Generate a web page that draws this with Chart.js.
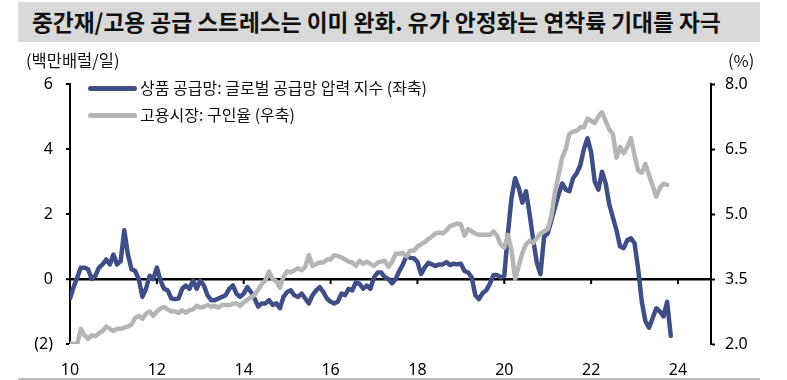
<!DOCTYPE html>
<html>
<head>
<meta charset="utf-8">
<script src="https://cdn.jsdelivr.net/npm/chart.js@4.4.1/dist/chart.umd.min.js"></script>
<style>
  html, body { margin:0; padding:0; background:#fff; }
  #wrap { position:relative; width:787px; height:380px; overflow:hidden; background:#fff; }
  #c { position:absolute; left:0; top:0; }
  .title { position:absolute; left:18px; top:2px; width:742px; height:40px; background:#d9d9d9; }
  .title span { position:absolute; left:14px; top:0; line-height:40px; font-family:"Noto Sans CJK KR","Noto Sans",sans-serif; font-weight:bold; font-size:22.7px; color:#111; white-space:nowrap; }
  .unit { position:absolute; font-family:"Noto Sans CJK KR","Noto Sans",sans-serif; font-size:16.5px; color:#111; line-height:18px; white-space:nowrap; }
  .leg { position:absolute; left:88px; font-family:"Noto Sans CJK KR","Noto Sans",sans-serif; font-size:16px; color:#111; white-space:nowrap; line-height:18px; }
  .leg i { display:inline-block; width:49px; height:5px; border-radius:3px; vertical-align:middle; margin-right:3px; position:relative; top:-1px; }
  .bline { position:absolute; left:18px; top:378px; width:742px; height:1.5px; background:#bfbfbf; }
</style>
</head>
<body>
<div id="wrap">
  <div class="title"><span>중간재/고용 공급 스트레스는 이미 완화. 유가 안정화는 연착륙 기대를 자극</span></div>
  <canvas id="c" width="787" height="380"></canvas>
  <div class="unit" style="left:26px; top:51px;">(백만배럴/일)</div>
  <div class="unit" style="left:728px; top:51px;">(%)</div>
  <div class="leg" style="top:78px;"><i style="background:#3f4e87"></i>상품 공급망: 글로벌 공급망 압력 지수 (좌축)</div>
  <div class="leg" style="top:105px;"><i style="background:#b5b5b5"></i>고용시장: 구인율 (우축)</div>
  <div class="bline"></div>
</div>
<script>
// Monthly data, Jan 2010 onward
const startYear = 10; // 2010
const xTickLabels = [10, 12, 14, 16, 18, 20, 22, 24];
const leftTicks = [-2, 0, 2, 4, 6];
const rightTicks = [2.0, 3.5, 5.0, 6.5, 8.0];

// 상품 공급망: 글로벌 공급망 압력 지수 (좌축)
const gscpi = [
  -0.6, -0.25, 0.05, 0.35, 0.35, 0.3, 0.0, 0.1, 0.35, 0.45, 0.6, 0.45,
  0.75, 0.45, 0.55, 1.5, 0.75, 0.3, 0.25, 0.0, -0.55, -0.3, 0.1, 0.0,
  0.35, -0.05, -0.3, -0.35, -0.6, -0.62, -0.6, -0.3, -0.2, -0.3, -0.05, -0.3,
  -0.05, -0.2, -0.5, -0.65, -0.65, -0.6, -0.55, -0.5, -0.3, -0.2, -0.45, -0.55,
  -0.45, -0.25, -0.4, -0.6, -0.85, -0.75, -0.75, -0.65, -0.8, -0.75, -0.9, -0.55,
  -0.4, -0.35, -0.5, -0.55, -0.45, -0.6, -0.75, -0.5, -0.35, -0.25, -0.4, -0.6,
  -0.7, -0.75, -0.7, -0.45, -0.5, -0.3, -0.35, -0.1, -0.15, -0.3, -0.2, -0.3,
  0.05, 0.2, 0.2, 0.05, 0.0, -0.13, 0.0, 0.25, 0.45, 0.72, 0.65, 0.64,
  0.53, 0.15, 0.35, 0.5, 0.45, 0.4, 0.45, 0.45, 0.52, 0.43, 0.47, 0.45,
  0.47, 0.25, 0.2, 0.05, -0.5, -0.62, -0.44, -0.35, -0.15, 0.12, 0.12, 0.05,
  0.1, 1.4, 2.5, 3.1, 2.8, 2.35, 2.7, 2.0, 1.2, 0.5, 0.15, 1.3,
  1.4, 1.8, 2.2, 2.6, 2.94, 2.75, 2.7, 3.1, 3.25, 3.5, 4.0, 4.33,
  3.9, 3.0, 2.75, 3.3, 2.95, 2.3, 1.9, 1.5, 1.0, 0.95, 1.2, 1.25,
  1.1, 0.3, -0.7, -1.3, -1.5, -1.2, -0.9, -1.0, -1.15, -0.7, -1.75
];

// 고용시장: 구인율 (우축)
const openingsRate = [
  2.02, 2.0, 2.0, 2.35, 2.2, 2.12, 2.2, 2.18, 2.25, 2.3, 2.4, 2.35,
  2.3, 2.35, 2.35, 2.38, 2.4, 2.45, 2.6, 2.65, 2.58, 2.7, 2.75, 2.65,
  2.75, 2.82, 2.85, 2.8, 2.75, 2.75, 2.72, 2.78, 2.72, 2.78, 2.8, 2.88,
  2.84, 2.86, 2.9, 2.86, 2.88, 2.84, 2.9, 2.9, 2.9, 2.92, 2.94, 2.88,
  2.96, 3.02, 3.08, 3.13, 3.25, 3.38, 3.47, 3.67, 3.5, 3.45, 3.3, 3.55,
  3.68, 3.65, 3.7, 3.75, 3.7, 3.78, 4.05, 3.8, 3.85, 3.88, 3.88, 3.95,
  3.95, 4.05, 4.03, 4.0, 3.95, 3.9, 3.88, 3.8, 3.92, 3.85, 3.9, 3.85,
  3.8, 3.88, 3.9, 3.92, 3.78, 3.9, 4.08, 4.08, 4.1, 4.02, 4.15, 4.15,
  4.25, 4.3, 4.35, 4.42, 4.48, 4.55, 4.57, 4.55, 4.62, 4.72, 4.75, 4.78,
  4.76, 4.5, 4.65, 4.6, 4.55, 4.52, 4.52, 4.52, 4.52, 4.6, 4.5, 4.3,
  4.22, 4.52, 4.15, 3.5, 3.8, 4.1, 4.3, 4.38, 4.33, 4.45, 4.55, 4.6,
  4.65, 4.95, 5.5, 5.9, 6.3, 6.5, 6.85, 6.9, 6.92, 7.0, 7.0, 7.2,
  7.15, 7.1, 7.25, 7.35, 7.15, 6.95, 6.85, 6.3, 6.55, 6.4, 6.55, 6.75,
  6.35, 6.0, 5.95, 6.15, 5.9, 5.65, 5.4, 5.6, 5.7, 5.67
];

const toPoints = arr => arr.map((v, i) => ({ x: startYear + i / 12, y: v }));

const zeroTicks = {
  id: 'zeroTicks',
  beforeDatasetsDraw(chart) {
    const ctx = chart.ctx, xs = chart.scales.x, ys = chart.scales.y;
    const y0 = ys.getPixelForValue(0);
    ctx.save();
    ctx.strokeStyle = '#000';
    ctx.lineWidth = 2;
    xs.ticks.forEach(t => {
      if (t.value === xTickLabels[0]) return;
      const px = xs.getPixelForValue(t.value);
      ctx.beginPath();
      ctx.moveTo(px, y0);
      ctx.lineTo(px, y0 + 5);
      ctx.stroke();
    });
    ctx.restore();
  }
};

const tickFont = { family: '"Noto Sans", "Noto Sans CJK KR", sans-serif', size: 16 };

new Chart(document.getElementById('c'), {
  type: 'line',
  data: {
    datasets: [
      { label: '상품 공급망: 글로벌 공급망 압력 지수 (좌축)', data: toPoints(gscpi), yAxisID: 'y',
        borderColor: '#3f4e87', borderWidth: 4.5, pointRadius: 0, tension: 0, order: 1,
        borderCapStyle: 'round', borderJoinStyle: 'round' },
      { label: '고용시장: 구인율 (우축)', data: toPoints(openingsRate), yAxisID: 'y2',
        borderColor: '#b5b5b5', borderWidth: 4.5, pointRadius: 0, tension: 0, order: 0,
        borderCapStyle: 'round', borderJoinStyle: 'round' }
    ]
  },
  options: {
    responsive: false,
    devicePixelRatio: 1,
    animation: false,
    layout: { padding: { top: 84, left: 0, right: 0, bottom: 0 } },
    plugins: { legend: { display: false }, tooltip: { enabled: false } },
    scales: {
      x: {
        type: 'linear', position: 'bottom', min: 10, max: 24.76,
        afterBuildTicks: s => { s.ticks = xTickLabels.map(v => ({ value: v })); },
        afterFit: s => { s.height = 36; },
        grid: { display: false },
        border: { display: false },
        ticks: { font: tickFont, color: '#000', padding: 9, maxRotation: 0, autoSkip: false,
                 callback: v => String(v) }
      },
      y: {
        position: 'left', min: -2, max: 6,
        afterBuildTicks: s => { s.ticks = leftTicks.map(v => ({ value: v })); },
        afterFit: s => { s.width = 70; },
        grid: {
          drawOnChartArea: true, drawTicks: true, tickLength: 4, tickWidth: 2, tickColor: '#000',
          color: c => (c.tick && c.tick.value === 0) ? '#000' : 'rgba(0,0,0,0)',
          lineWidth: c => (c.tick && c.tick.value === 0) ? 2.5 : 0
        },
        border: { display: true, color: '#000', width: 2 },
        ticks: { font: tickFont, color: '#000', padding: 13,
                 callback: v => v < 0 ? '(' + (-v) + ')' : String(v) }
      },
      y2: {
        position: 'right', min: 2, max: 8,
        afterBuildTicks: s => { s.ticks = rightTicks.map(v => ({ value: v })); },
        afterFit: s => { s.width = 76; },
        grid: { drawOnChartArea: false, drawTicks: true, tickLength: 4, tickWidth: 2, tickColor: '#000' },
        border: { display: true, color: '#000', width: 2 },
        ticks: { font: tickFont, color: '#000', padding: 10, callback: v => Number(v).toFixed(1) }
      }
    }
  },
  plugins: [zeroTicks]
});
</script>
</body>
</html>
